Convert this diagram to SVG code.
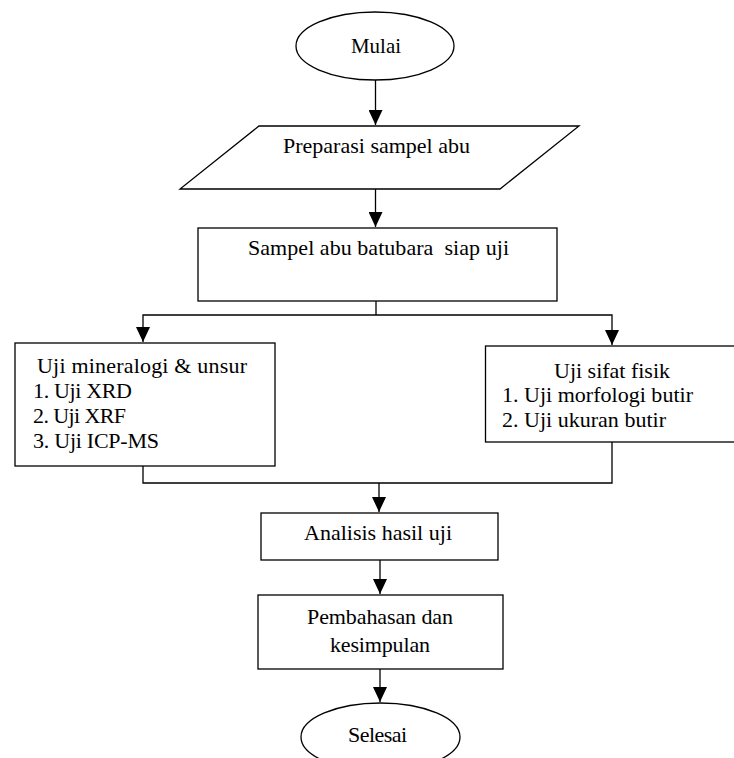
<svg xmlns="http://www.w3.org/2000/svg" width="734" height="758" viewBox="0 0 734 758">
<style>
.s{fill:#fff;stroke:#000;stroke-width:1.3}
.c{fill:none;stroke:#000;stroke-width:1.3}
text{font-family:"Liberation Serif","Times New Roman",serif;font-size:22px;fill:#000}
</style>
<defs>
<marker id="ah" markerWidth="15" markerHeight="14" refX="15" refY="7" orient="auto" markerUnits="userSpaceOnUse" viewBox="0 0 15 14">
<path d="M0,0 L15,7 L0,14 Z" fill="#000"/>
</marker>
</defs>
<rect width="734" height="758" fill="#fff"/>
<g id="connectors">
<line class="c" x1="375.5" y1="80" x2="375.5" y2="125" marker-end="url(#ah)"/>
<line class="c" x1="375.5" y1="189" x2="375.5" y2="227" marker-end="url(#ah)"/>
<polyline class="c" points="376,301 376,315"/>
<polyline class="c" points="376,315 143,315 143,342" marker-end="url(#ah)"/>
<polyline class="c" points="376,315 612,315 612,345" marker-end="url(#ah)"/>
<polyline class="c" points="143,466 143,483 612,483 612,442"/>
<line class="c" x1="379" y1="483" x2="379" y2="512" marker-end="url(#ah)"/>
<line class="c" x1="380" y1="560" x2="380" y2="594" marker-end="url(#ah)"/>
<line class="c" x1="380" y1="669" x2="380" y2="702" marker-end="url(#ah)"/>
</g>
<g id="mulai">
<ellipse class="s" cx="375" cy="46" rx="79" ry="34"/>
<text x="351" y="53" textLength="50" lengthAdjust="spacingAndGlyphs">Mulai</text>
</g>
<g id="preparasi">
<polygon class="s" points="259,126 579,126 500,189 180,189"/>
<text x="283" y="153" textLength="187">Preparasi sampel abu</text>
</g>
<g id="sampel">
<rect class="s" x="198" y="228" width="359" height="73"/>
<text x="248" y="255" textLength="261" xml:space="preserve">Sampel abu batubara  siap uji</text>
</g>
<g id="mineralogi">
<rect class="s" x="15" y="343" width="260" height="123"/>
<text x="37" y="373" textLength="210">Uji mineralogi &amp; unsur</text>
<text x="33" y="398" textLength="99">1. Uji XRD</text>
<text x="33" y="423" textLength="93">2. Uji XRF</text>
<text x="33" y="448" textLength="126">3. Uji ICP-MS</text>
</g>
<g id="fisik">
<rect class="s" x="485.5" y="346" width="260" height="96"/>
<text x="554" y="378" textLength="116">Uji sifat fisik</text>
<text x="502" y="402" textLength="191">1. Uji morfologi butir</text>
<text x="502" y="427" textLength="164">2. Uji ukuran butir</text>
</g>
<g id="analisis">
<rect class="s" x="261" y="513" width="237" height="47"/>
<text x="304" y="540" textLength="148">Analisis hasil uji</text>
</g>
<g id="pembahasan">
<rect class="s" x="258" y="595" width="245" height="74"/>
<text x="307" y="624" textLength="146">Pembahasan dan</text>
<text x="330" y="652" textLength="100">kesimpulan</text>
</g>
<g id="selesai">
<ellipse class="s" cx="380.5" cy="737" rx="79.5" ry="34"/>
<text x="348" y="742" textLength="59">Selesai</text>
</g>
</svg>
